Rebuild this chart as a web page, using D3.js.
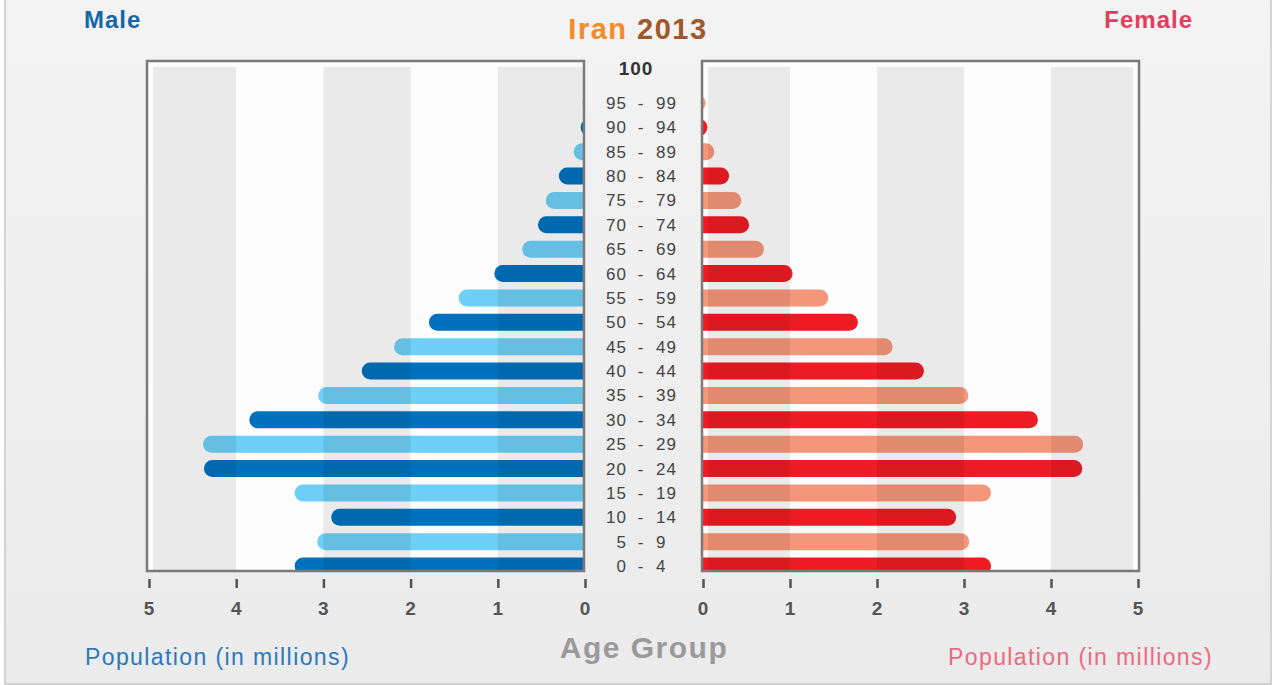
<!DOCTYPE html>
<html>
<head>
<meta charset="utf-8">
<script src="https://cdn.jsdelivr.net/npm/d3@7"></script>
<style>
  body { margin: 0; background: #fff; }
  svg { display: block; font-family: "Liberation Sans", Arial, sans-serif; }
</style>
</head>
<body>
<svg width="1277" height="685"></svg>
<script>
// Age groups, top to bottom
const ageGroups = ["95 - 99", "90 - 94", "85 - 89", "80 - 84", "75 - 79", "70 - 74", "65 - 69",
    "60 - 64", "55 - 59", "50 - 54", "45 - 49", "40 - 44", "35 - 39", "30 - 34", "25 - 29",
    "20 - 24", "15 - 19", "10 - 14", "5 - 9", "0 - 4"];

// Population in millions
const male = [0.03, 0.05, 0.13, 0.30, 0.45, 0.54, 0.72, 1.04, 1.45, 1.79, 2.19, 2.56, 3.06,
    3.85, 4.38, 4.37, 3.33, 2.91, 3.07, 3.33];
const female = [0.03, 0.05, 0.13, 0.30, 0.44, 0.53, 0.70, 1.03, 1.44, 1.78, 2.18, 2.54, 3.05,
    3.85, 4.37, 4.36, 3.31, 2.91, 3.06, 3.31];

const tickValues = [0, 1, 2, 3, 4, 5];

const svg = d3.select("svg");

// background
const defs = svg.append("defs");
const bg = defs.append("linearGradient").attr("id", "bg").attr("x1", 0).attr("y1", 0).attr("x2", 0).attr("y2", 1);
bg.append("stop").attr("offset", 0).attr("stop-color", "#f3f3f3");
bg.append("stop").attr("offset", 1).attr("stop-color", "#ebebeb");
svg.append("rect").attr("x", 5).attr("y", -2).attr("width", 1266).attr("height", 686)
    .attr("fill", "url(#bg)").attr("stroke", "#c8c8c8").attr("stroke-width", 1.5);

// scales
const xMale = d3.scaleLinear().domain([0, 5]).range([585, 149]);
const xFemale = d3.scaleLinear().domain([0, 5]).range([703, 1138]);
const y = d3.scalePoint().domain(ageGroups).range([103, 566]);
const barH = 17;
const plotTop = 61, plotBottom = 571;

const panels = [
    { x: xMale, data: male, left: 147, right: 584, dir: -1, id: "m",
      colors: ["#6dcff6", "#0071bc"], bands: [[5, 4], [3, 2], [1, 0]] },
    { x: xFemale, data: female, left: 702, right: 1139, dir: 1, id: "f",
      colors: ["#f4967a", "#ed1c24"], bands: [[0, 1], [2, 3], [4, 5]] }
];

panels.forEach((p) => {
    const g = svg.append("g");
    g.append("rect").attr("x", p.left).attr("y", plotTop).attr("width", p.right - p.left)
        .attr("height", plotBottom - plotTop).attr("fill", "#fdfdfd");

    defs.append("clipPath").attr("id", "clip-" + p.id)
        .append("rect").attr("x", p.left).attr("y", plotTop).attr("width", p.right - p.left + 1)
        .attr("height", plotBottom - plotTop);

    // bars
    g.append("g").attr("clip-path", `url(#clip-${p.id})`)
        .selectAll("rect")
        .data(p.data)
        .enter()
        .append("rect")
        .attr("x", (d) => p.dir < 0 ? p.x(d) : p.x(0) - 20)
        .attr("width", (d) => Math.abs(p.x(d) - p.x(0)) + 20)
        .attr("y", (d, i) => y(ageGroups[i]) - barH / 2)
        .attr("height", barH)
        .attr("rx", barH / 2)
        .attr("fill", (d, i) => p.colors[i % 2]);

    // grey bands laid over the bars
    const bandX = (d) => Math.max(p.left + 6, Math.min(p.x(d[0]), p.x(d[1])));
    const bandX2 = (d) => Math.min(p.right - (p.dir > 0 || d[1] !== 0 ? 6 : 0), Math.max(p.x(d[0]), p.x(d[1])));
    g.selectAll("rect.band")
        .data(p.bands)
        .enter()
        .append("rect")
        .attr("class", "band")
        .attr("x", bandX)
        .attr("width", (d) => bandX2(d) - bandX(d))
        .attr("y", plotTop + 6)
        .attr("height", plotBottom - plotTop - 6)
        .attr("fill", "#000")
        .attr("opacity", 0.075);

    // frame
    g.append("rect").attr("x", p.left).attr("y", plotTop).attr("width", p.right - p.left)
        .attr("height", plotBottom - plotTop).attr("fill", "none").attr("stroke", "#7a7a7a").attr("stroke-width", 2.5);

    // axis ticks
    const axis = d3.axisBottom(p.x)
        .tickValues(tickValues).tickSizeInner(0).tickSizeOuter(0).tickFormat(() => "");
    const ax = svg.append("g").attr("transform", `translate(0,${plotBottom})`).call(axis);
    ax.select(".domain").remove();
    ax.selectAll(".tick line").attr("y1", 8).attr("y2", 17)
        .attr("stroke", "#555").attr("stroke-width", 2.5);

    // tick labels
    svg.append("g").selectAll("text")
        .data(tickValues)
        .enter()
        .append("text")
        .attr("x", (d) => p.x(d))
        .attr("y", plotBottom + 44)
        .attr("text-anchor", "middle")
        .attr("font-size", 19)
        .attr("font-weight", "bold")
        .attr("fill", "#555")
        .text((d) => d);
});

// age labels: first number right-aligned, dash, second number left-aligned
const ageLabels = svg.append("g").attr("font-size", 17).attr("fill", "#444").attr("letter-spacing", 1);
ageLabels.selectAll("text.lo")
    .data(ageGroups)
    .enter()
    .append("text")
    .attr("class", "lo")
    .attr("x", 627)
    .attr("y", (d) => y(d) + 6)
    .attr("text-anchor", "end")
    .text((d) => d.split(" - ")[0]);
ageLabels.selectAll("text.dash")
    .data(ageGroups)
    .enter()
    .append("text")
    .attr("class", "dash")
    .attr("x", 641)
    .attr("y", (d) => y(d) + 6)
    .attr("text-anchor", "middle")
    .text("-");
ageLabels.selectAll("text.hi")
    .data(ageGroups)
    .enter()
    .append("text")
    .attr("class", "hi")
    .attr("x", 656)
    .attr("y", (d) => y(d) + 6)
    .text((d) => d.split(" - ")[1]);

svg.append("text").attr("x", 636).attr("y", 75).attr("text-anchor", "middle")
    .attr("font-size", 19).attr("letter-spacing", 1).attr("font-weight", "bold").attr("fill", "#333").text("100");

// titles
const title = svg.append("text").attr("x", 638).attr("y", 39).attr("text-anchor", "middle")
    .attr("font-size", 29).attr("letter-spacing", 1.5).attr("font-weight", "bold");
title.append("tspan").attr("fill", "#f58a2a").text("Iran ");
title.append("tspan").attr("fill", "#a0582a").text("2013");

svg.append("text").attr("x", 84).attr("y", 28).attr("font-size", 24).attr("letter-spacing", 1)
    .attr("font-weight", "bold").attr("fill", "#1565a8").text("Male");
svg.append("text").attr("x", 1193).attr("y", 28).attr("text-anchor", "end").attr("font-size", 24)
    .attr("letter-spacing", 1).attr("font-weight", "bold").attr("fill", "#e63b5c").text("Female");

svg.append("text").attr("x", 644).attr("y", 658).attr("text-anchor", "middle").attr("font-size", 30)
    .attr("letter-spacing", 1.5).attr("font-weight", "bold").attr("fill", "#9a9a9a").text("Age Group");

svg.append("text").attr("x", 85).attr("y", 665).attr("font-size", 23).attr("letter-spacing", 1.4)
    .attr("fill", "#2b78bb").text("Population (in millions)");
svg.append("text").attr("x", 1213).attr("y", 665).attr("text-anchor", "end").attr("font-size", 23)
    .attr("letter-spacing", 1.4).attr("fill", "#ec6a80").text("Population (in millions)");
</script>
</body>
</html>
